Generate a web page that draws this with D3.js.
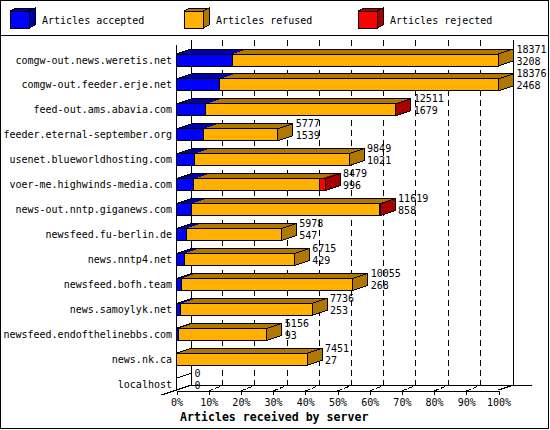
<!DOCTYPE html>
<html>
<head>
<meta charset="utf-8">
<script src="https://cdn.jsdelivr.net/npm/d3@7"></script>
<style>
  body { margin: 0; background: #fff; }
  svg { display: block; }
  text { font-family: "DejaVu Sans Mono", monospace; font-size: 10px; fill: #000; }
</style>
</head>
<body>
<script>
// ---- data ----
const servers = [
  "comgw-out.news.weretis.net",
  "comgw-out.feeder.erje.net",
  "feed-out.ams.abavia.com",
  "feeder.eternal-september.org",
  "usenet.blueworldhosting.com",
  "voer-me.highwinds-media.com",
  "news-out.nntp.giganews.com",
  "newsfeed.fu-berlin.de",
  "news.nntp4.net",
  "newsfeed.bofh.team",
  "news.samoylyk.net",
  "newsfeed.endofthelinebbs.com",
  "news.nk.ca",
  "localhost"
];
const totals   = [18371, 18376, 12511, 5777, 9849, 8479, 11619, 5978, 6715, 10055, 7736, 5156, 7451, 0];
const accepted = [3208, 2468, 1679, 1539, 1021, 996, 858, 547, 429, 268, 253, 93, 27, 0];
const refused  = [15163, 15908, 10807, 4238, 8828, 7193, 10741, 5431, 6286, 9787, 7483, 5063, 7424, 0];
const rejected = [0, 0, 25, 0, 0, 290, 20, 0, 0, 0, 0, 0, 0, 0];
const seriesNames = ["Articles accepted", "Articles refused", "Articles rejected"];
const tickValues = [0, 10, 20, 30, 40, 50, 60, 70, 80, 90, 100];
const xTitle = "Articles received by server";

// ---- styling ----
const front = ["#0000ff", "#ffb000", "#ff0000"];
const dark  = ["#0000a8", "#b07800", "#a80000"];
const W = 550, H = 430;
const DX = 15, DY = 5, BAR_H = 12;

const svg = d3.select("body").append("svg")
  .attr("width", W).attr("height", H)
  .attr("shape-rendering", "crispEdges");

svg.append("rect").attr("x", 0.5).attr("y", 0.5).attr("width", 548).attr("height", 428)
  .attr("fill", "#fff").attr("stroke", "#000");
svg.append("line").attr("x1", 0).attr("x2", 549).attr("y1", 35.5).attr("y2", 35.5).attr("stroke", "#000");

// legend
const legendX = [10, 184, 358];
seriesNames.forEach((name, k) => {
  const g = svg.append("g").attr("transform", `translate(${legendX[k]},11)`);
  const w = 19, h = 17, ddx = 6, ddy = 3;
  g.append("polygon").attr("points", `0,0 ${w},0 ${w+ddx},${-ddy} ${ddx},${-ddy}`)
    .attr("fill", dark[k]).attr("stroke", "#000");
  g.append("polygon").attr("points", `${w},0 ${w+ddx},${-ddy} ${w+ddx},${h-ddy} ${w},${h}`)
    .attr("fill", dark[k]).attr("stroke", "#000");
  g.append("rect").attr("x", 0).attr("y", 0).attr("width", w).attr("height", h)
    .attr("fill", front[k]).attr("stroke", "#000");
  g.append("text").attr("x", 32).attr("y", 12.5).text(name);
});

// scales
const maxTotal = d3.max(totals);
const x = d3.scaleLinear().domain([0, 100]).range([176.5, 498.5]);
const xv = v => x(v / maxTotal * 100);
const y = d3.scalePoint().domain(servers).range([54, 54 + 13 * 24.94]);

const BASE = 390, TOP = 40;

// back gridlines
svg.append("g").selectAll("line").data(tickValues.slice(1, -1)).join("line")
  .attr("x1", d => x(d) + DX - 1).attr("x2", d => x(d) + DX - 1)
  .attr("y1", TOP).attr("y2", BASE - DY)
  .attr("stroke", "#000").attr("stroke-dasharray", "6,4");

// walls
svg.append("line").attr("x1", x(0) + DX).attr("x2", x(0) + DX).attr("y1", TOP).attr("y2", BASE - DY).attr("stroke", "#000");
svg.append("line").attr("x1", x(100) + DX).attr("x2", x(100) + DX).attr("y1", TOP).attr("y2", BASE - DY).attr("stroke", "#000");
svg.append("line").attr("x1", x(0)).attr("x2", x(0)).attr("y1", TOP + DY).attr("y2", BASE + 1).attr("stroke", "#000");
// floor
svg.append("line").attr("x1", x(0) + DX).attr("x2", 532).attr("y1", BASE - DY + 0.5).attr("y2", BASE - DY + 0.5).attr("stroke", "#000");
svg.append("line").attr("x1", x(0) - DX).attr("y1", BASE + DY).attr("x2", x(0) + DX).attr("y2", BASE - DY).attr("stroke", "#000");
svg.append("line").attr("x1", x(100)).attr("y1", BASE).attr("x2", x(100) + DX).attr("y2", BASE - DY).attr("stroke", "#000");
svg.append("g").selectAll("line").data(tickValues.slice(1, -1)).join("line")
  .attr("x1", d => x(d)).attr("y1", BASE + 1).attr("x2", d => x(d) + DX).attr("y2", BASE - DY)
  .attr("stroke", "#000").attr("stroke-dasharray", "5,2");

// bottom axis
const axis = svg.append("g").attr("transform", `translate(0,${BASE + 0.5})`)
  .call(d3.axisBottom(x).tickValues(tickValues).tickFormat(d => d + "%").tickSize(4).tickSizeOuter(0).tickPadding(4));
axis.select(".domain").attr("stroke", "#000");
axis.selectAll(".tick line").attr("stroke", "#000");
axis.selectAll("text").style("font-family", "'DejaVu Sans Mono', monospace").style("font-size", "10px").attr("fill", "#000");

svg.append("text").attr("x", 180).attr("y", 421)
  .style("font-weight", "bold").style("font-size", "11.6px").text(xTitle);

// category labels
svg.append("g").selectAll("text").data(servers).join("text")
  .attr("x", 172).attr("y", d => y(d) + 9.5).attr("text-anchor", "end").text(d => d);

// bars
servers.forEach((s, i) => {
  const top = y(s);
  const vals = [accepted[i], refused[i], rejected[i]];
  const g = svg.append("g");
  let cum = 0, lastK = -1;
  const segs = [];
  vals.forEach((v, k) => {
    if (v > 0) { segs.push({ k, x0: xv(cum), x1: xv(cum + v) }); lastK = k; }
    cum += v;
  });
  const x0 = x(0), xEnd = xv(cum);
  segs.forEach(sg => {
    g.append("polygon")
      .attr("points", `${sg.x0},${top} ${sg.x1},${top} ${sg.x1 + DX},${top - DY} ${sg.x0 + DX},${top - DY}`)
      .attr("fill", dark[sg.k]);
  });
  g.append("polygon")
    .attr("points", `${x0},${top} ${xEnd},${top} ${xEnd + DX},${top - DY} ${x0 + DX},${top - DY}`)
    .attr("fill", "none").attr("stroke", "#000");
  g.append("polygon")
    .attr("points", `${xEnd},${top} ${xEnd + DX},${top - DY} ${xEnd + DX},${top + BAR_H - DY} ${xEnd},${top + BAR_H}`)
    .attr("fill", lastK >= 0 ? dark[lastK] : "none").attr("stroke", "#000");
  segs.forEach(sg => {
    g.append("rect").attr("x", sg.x0).attr("y", top).attr("width", sg.x1 - sg.x0).attr("height", BAR_H)
      .attr("fill", front[sg.k]).attr("stroke", "#000");
  });
  g.append("text").attr("x", xEnd + DX + 3).attr("y", top - 1.5).text(totals[i]);
  g.append("text").attr("x", xEnd + DX + 3).attr("y", top + 10.5).text(accepted[i]);
});
</script>
</body>
</html>
